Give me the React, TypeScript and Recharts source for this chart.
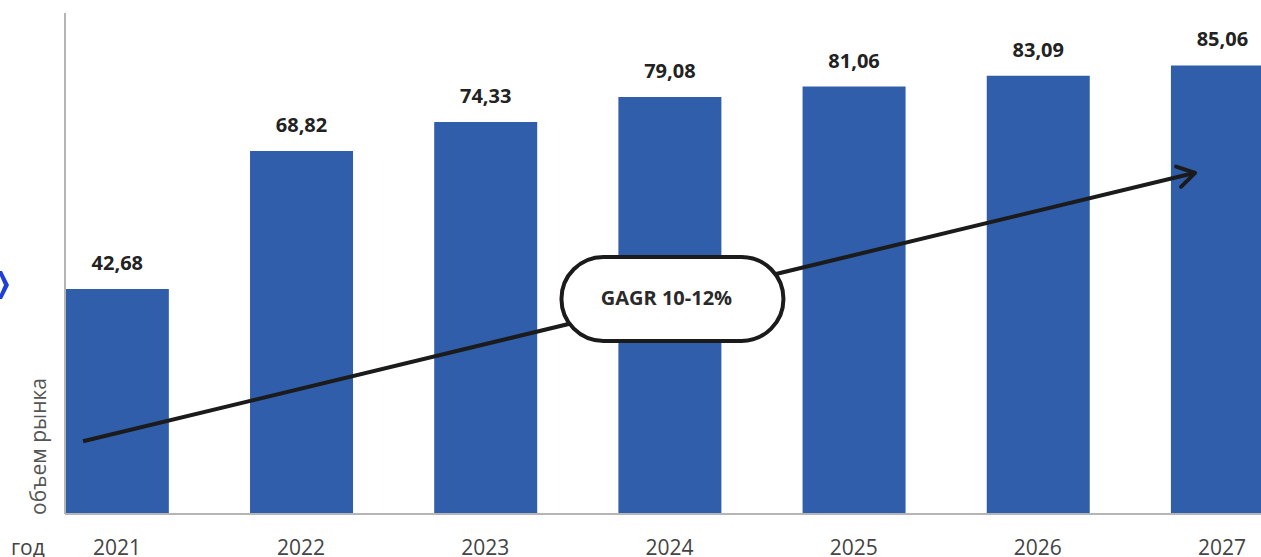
import React from "react";
import { BarChart, Bar, XAxis, YAxis, LabelList, ReferenceLine } from "recharts";

// market volume by year
const years = [2021, 2022, 2023, 2024, 2025, 2026, 2027];
const values = [42.68, 68.82, 74.33, 79.08, 81.06, 83.09, 85.06];
const valueLabels = ["42,68", "68,82", "74,33", "79,08", "81,06", "83,09", "85,06"];

// trend arrow (annotation), in data units
const trendStart = { x: 2020.816, y: 13.8 };
const trendEnd = { x: 2026.854, y: 64.7 };
const trendText = "GAGR 10-12%";

const data = years.map((year, i) => ({ year, value: values[i], label: valueLabels[i] }));

const BLUE = "#305eab";
const AXIS = "#b5b5b5";

function TrendArrow(props: any) {
  const { x1, y1, x2, y2 } = props;
  const ang = Math.atan2(y2 - y1, x2 - x1);
  const head = 20;
  const spread = 0.55;
  const ax = x2 - head * Math.cos(ang - spread);
  const ay = y2 - head * Math.sin(ang - spread);
  const bx = x2 - head * Math.cos(ang + spread);
  const by = y2 - head * Math.sin(ang + spread);
  const t = 0.53;
  const cx = x1 + (x2 - x1) * t;
  const cy = y1 + (y2 - y1) * t;
  const w = 222;
  const h = 84;
  return (
    <g>
      <line x1={x1} y1={y1} x2={x2} y2={y2} stroke="#1b1b1b" strokeWidth={4} />
      <polyline
        points={`${ax},${ay} ${x2},${y2} ${bx},${by}`}
        fill="none"
        stroke="#1b1b1b"
        strokeWidth={4}
        strokeLinecap="round"
        strokeLinejoin="round"
      />
      <rect
        x={cx - w / 2}
        y={cy - h / 2}
        width={w}
        height={h}
        rx={h / 2}
        ry={h / 2}
        fill="#fff"
        stroke="#1b1b1b"
        strokeWidth={4}
      />
      <text
        x={cx - 6}
        y={cy + 1}
        textAnchor="middle"
        dominantBaseline="middle"
        fontFamily="'Open Sans', sans-serif"
        fontWeight={700}
        fontSize={20}
        fill="#2a2a2a"
      >
        {trendText}
      </text>
    </g>
  );
}

export default function App() {
  return (
    <div
      style={{
        position: "absolute",
        left: 0,
        top: 0,
        width: 1261,
        height: 557,
        overflow: "hidden",
        background: "#fff",
      }}
    >
      <BarChart
        width={1320}
        height={557}
        data={data}
        margin={{ top: 13, right: 0, bottom: 13, left: 64 }}
      >
        <YAxis
          width={1}
          domain={[0, 95]}
          allowDataOverflow
          tick={false}
          tickLine={false}
          axisLine={{ stroke: AXIS, strokeWidth: 2 }}
        />
        <XAxis
          dataKey="year"
          type="number"
          domain={[2020.718, 2027.532]}
          allowDataOverflow
          ticks={years}
          height={30}
          tickLine={false}
          tickMargin={20}
          axisLine={{ stroke: AXIS, strokeWidth: 2 }}
          tick={{ fill: "#444", fontSize: 21, fontFamily: "'Open Sans', sans-serif" }}
        />
        <Bar dataKey="value" fill={BLUE} barSize={103} isAnimationActive={false}>
          <LabelList
            dataKey="label"
            position="top"
            offset={19}
            fill="#222"
            fontSize={20}
            fontWeight={700}
            fontFamily="'Open Sans', sans-serif"
          />
        </Bar>
        <ReferenceLine
          segment={[trendStart, trendEnd]}
          ifOverflow="visible"
          shape={TrendArrow}
        />
      </BarChart>
      <div
        style={{
          position: "absolute",
          left: 40,
          top: 515,
          transform: "rotate(-90deg)",
          transformOrigin: "0 0",
          whiteSpace: "nowrap",
          fontFamily: "'Open Sans', sans-serif",
          fontSize: 21,
          color: "#555",
          lineHeight: "1",
          marginLeft: -12,
        }}
      >
        объем рынка
      </div>
      <div
        style={{
          position: "absolute",
          left: 11,
          top: 537,
          fontFamily: "'Open Sans', sans-serif",
          fontSize: 21,
          color: "#444",
          lineHeight: "1",
        }}
      >
        год
      </div>
      <svg style={{ position: "absolute", left: 0, top: 270 }} width={10} height={30}>
        <polygon points="0,1 2,1 9,15 2,29 0,29 0,24 4,15 0,6" fill="#1f3fd6" />
      </svg>
    </div>
  );
}
